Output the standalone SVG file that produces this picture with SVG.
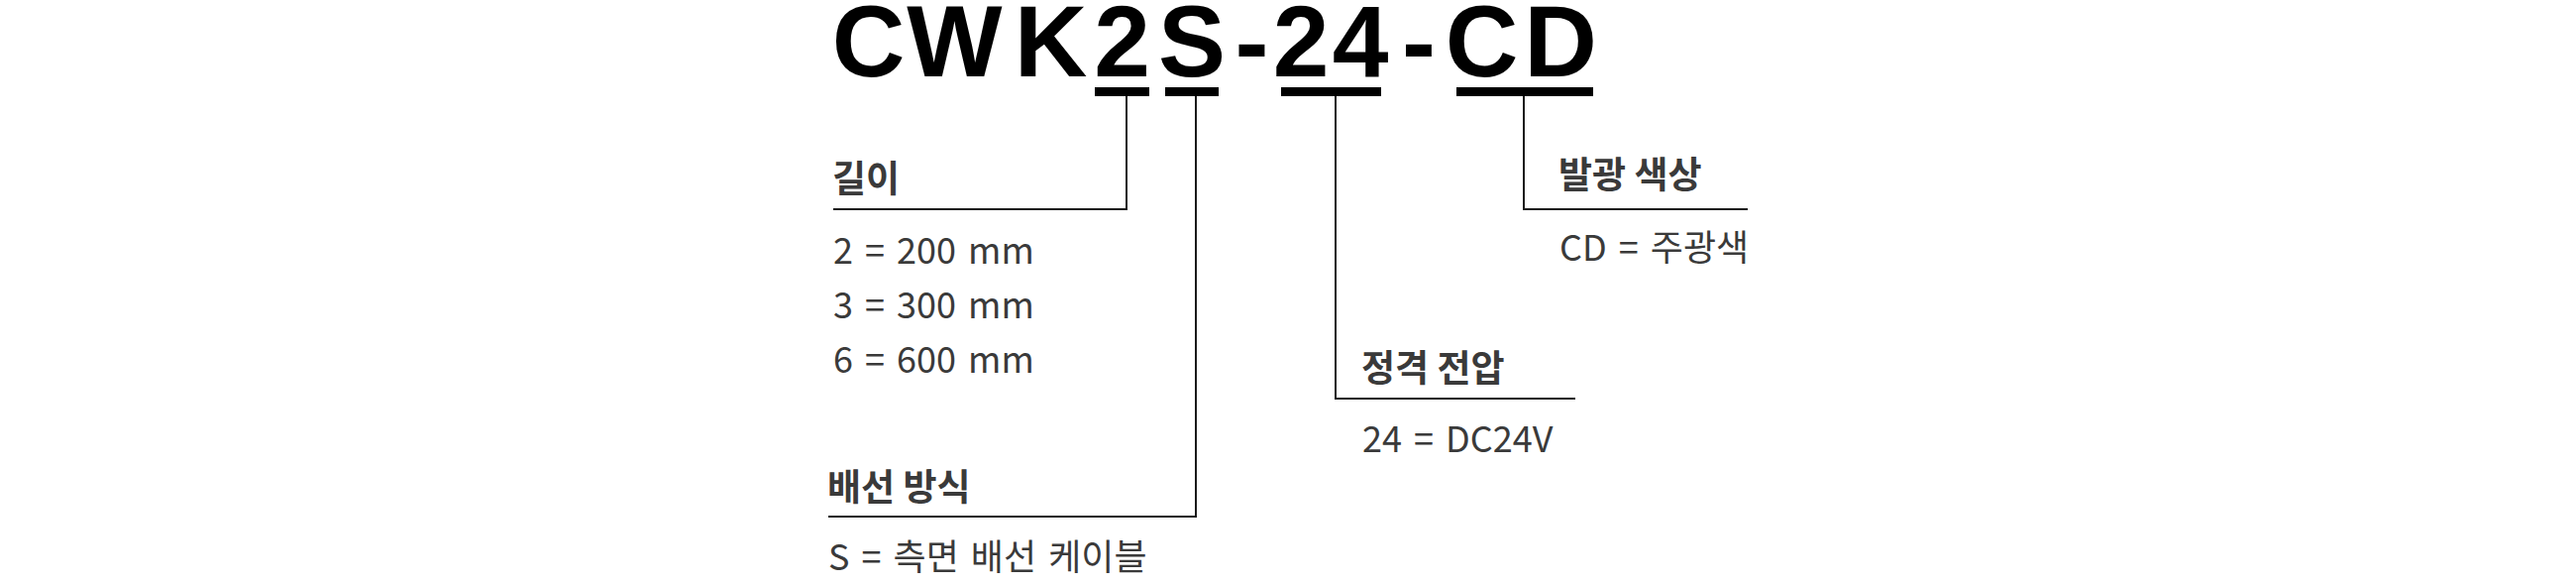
<svg xmlns="http://www.w3.org/2000/svg" width="2600" height="590" viewBox="0 0 2600 590">
<style>
.title{font-family:"Liberation Sans",Arial,sans-serif;font-weight:bold;font-size:102px;fill:#000;text-anchor:middle}
.bar{fill:#000}
.conn{fill:none;stroke:#1a1a1a;stroke-width:2}
.head{font-family:"Noto Sans CJK KR","Noto Sans",sans-serif;font-weight:bold;font-size:37px;fill:#3a3a3a}
.body{font-family:"Noto Sans CJK KR","Noto Sans",sans-serif;font-size:36px;fill:#3a3a3a;word-spacing:4px}
</style>
<rect width="2600" height="590" fill="#fff"/>
<g id="title">
<text class="title" x="876.5 963.5 1060.5 1132.5 1203 1263.5 1313 1373 1432 1495.5 1575" y="77">CWK2S-24-CD</text>
<rect class="bar" x="1105" y="88" width="55" height="9"/>
<rect class="bar" x="1176" y="88" width="54" height="9"/>
<rect class="bar" x="1293" y="88" width="101" height="9"/>
<rect class="bar" x="1470" y="88" width="138" height="9"/>
</g>
<g id="connectors">
<polyline class="conn" points="1137,97 1137,211 841,211"/>
<polyline class="conn" points="1207,97 1207,521 836,521"/>
<polyline class="conn" points="1348,97 1348,402 1590,402"/>
<polyline class="conn" points="1538,97 1538,211 1764,211"/>
</g>
<g id="length">
<text class="head" x="840" y="194">길이</text>
<text class="body" x="841" y="266">2 = 200 mm</text>
<text class="body" x="841" y="321">3 = 300 mm</text>
<text class="body" x="841" y="376">6 = 600 mm</text>
</g>
<g id="wiring">
<text class="head" x="835" y="505">배선 방식</text>
<text class="body" x="836" y="575">S = 측면 배선 케이블</text>
</g>
<g id="voltage">
<text class="head" x="1374" y="385">정격 전압</text>
<text class="body" x="1375" y="456">24 = DC24V</text>
</g>
<g id="color">
<text class="head" x="1573" y="190">발광 색상</text>
<text class="body" x="1574" y="263">CD = 주광색</text>
</g>
</svg>
